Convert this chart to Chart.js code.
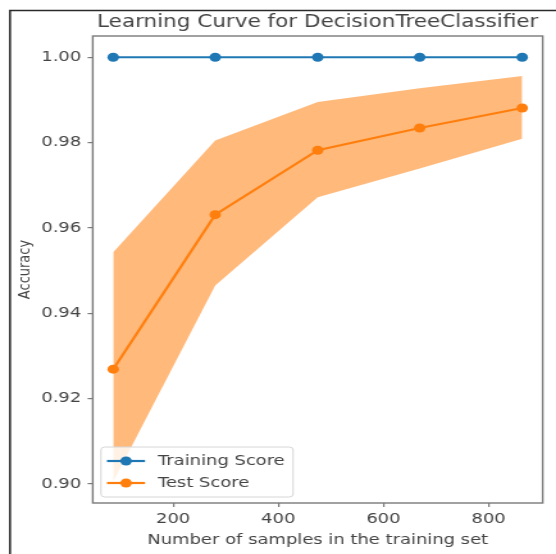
<!DOCTYPE html>
<html>
<head>
<meta charset="utf-8">
<script src="https://cdn.jsdelivr.net/npm/chart.js@4.4.1/dist/chart.umd.min.js"></script>
<style>
  html, body { margin: 0; padding: 0; background: #ffffff; }
  #c { display: block; }
</style>
</head>
<body>
<!-- The figure is laid out on a narrower canvas and widened by CSS, like the exported PNG -->
<canvas id="c" width="434" height="554" style="width:556px;height:554px;"></canvas>
<script>
// Learning curve values
const sampleSizes = [86, 280, 475, 669, 864];
const trainScores = [1.0, 1.0, 1.0, 1.0, 1.0];
const testScores  = [0.9269, 0.9631, 0.9782, 0.9834, 0.9881];
const testUpper   = [0.9543, 0.9805, 0.9895, 0.9927, 0.9956];
const testLower   = [0.9005, 0.9465, 0.9672, 0.9739, 0.9809];

// Tick labels and texts
const xTicks = [200, 400, 600, 800];
const yTicks = [0.90, 0.92, 0.94, 0.96, 0.98, 1.00];
const seriesNames = ['Training Score', 'Test Score'];
const titleText = 'Learning Curve for DecisionTreeClassifier';
const xLabel = 'Number of samples in the training set';
const yLabel = 'Accuracy';

const BLUE = '#1f77b4';
const ORANGE = '#ff7f0e';
const TEXT = '#444444';
const FONT = 'DejaVu Sans';
const LABEL_SIZE = 14;

// 5% margins around the data, like matplotlib's autoscale
function padded(lo, hi) {
  const m = (hi - lo) * 0.05;
  return [lo - m, hi + m];
}
const [xMin, xMax] = padded(Math.min(...sampleSizes), Math.max(...sampleSizes));
const [yMin, yMax] = padded(
  Math.min(...testLower, ...trainScores),
  Math.max(...testUpper, ...trainScores)
);

const pts = (ys) => sampleSizes.map((x, i) => ({ x: x, y: ys[i] }));

// Title, axes frame, outer border and in-plot legend
const decorations = {
  id: 'decorations',
  afterDatasetsDraw(chart) {
    const { ctx, chartArea: a } = chart;
    ctx.save();
    ctx.strokeStyle = '#7a7a7a';
    ctx.lineWidth = 1.4;
    ctx.strokeRect(a.left, a.top, a.right - a.left, a.bottom - a.top);
    ctx.restore();
  },
  afterDraw(chart) {
    const { ctx, chartArea: a } = chart;
    ctx.save();

    // title
    ctx.fillStyle = TEXT;
    ctx.font = `16.8px "${FONT}"`;
    ctx.textAlign = 'center';
    ctx.textBaseline = 'middle';
    ctx.fillText(titleText, (a.left + a.right) / 2, 22.5);

    // outer border of the image
    ctx.strokeStyle = '#2a2a2a';
    ctx.lineWidth = 1.6;
    ctx.beginPath();
    ctx.moveTo(7.8, chart.height);
    ctx.lineTo(7.8, 10.5);
    ctx.lineTo(chart.width, 10.5);
    ctx.stroke();

    // legend box (lower left)
    const bx = a.left + 6.4, bw = 150, bh = 50;
    const by = a.bottom - 6 - bh;
    const r = 3;
    ctx.beginPath();
    ctx.moveTo(bx + r, by);
    ctx.lineTo(bx + bw - r, by);
    ctx.arcTo(bx + bw, by, bx + bw, by + r, r);
    ctx.lineTo(bx + bw, by + bh - r);
    ctx.arcTo(bx + bw, by + bh, bx + bw - r, by + bh, r);
    ctx.lineTo(bx + r, by + bh);
    ctx.arcTo(bx, by + bh, bx, by + bh - r, r);
    ctx.lineTo(bx, by + r);
    ctx.arcTo(bx, by, bx + r, by, r);
    ctx.closePath();
    ctx.fillStyle = 'rgba(255,255,255,0.8)';
    ctx.fill();
    ctx.strokeStyle = '#d6d6d6';
    ctx.lineWidth = 1;
    ctx.stroke();

    const rows = [chart.data.datasets[0], chart.data.datasets[1]];
    rows.forEach((ds, i) => {
      const cy = by + 14 + i * 22;
      ctx.strokeStyle = ds.borderColor;
      ctx.lineWidth = ds.borderWidth;
      ctx.beginPath();
      ctx.moveTo(bx + 4.7, cy);
      ctx.lineTo(bx + 34.4, cy);
      ctx.stroke();
      ctx.fillStyle = ds.pointBackgroundColor;
      ctx.beginPath();
      ctx.arc(bx + 19.6, cy, ds.pointRadius, 0, Math.PI * 2);
      ctx.fill();
      ctx.fillStyle = TEXT;
      ctx.font = `${LABEL_SIZE}px "${FONT}"`;
      ctx.textAlign = 'left';
      ctx.textBaseline = 'middle';
      ctx.fillText(ds.label, bx + 44.5, cy + 0.5);
    });
    ctx.restore();
  }
};

new Chart(document.getElementById('c'), {
  type: 'line',
  data: {
    datasets: [
      {
        label: seriesNames[0],
        data: pts(trainScores),
        borderColor: BLUE,
        backgroundColor: BLUE,
        pointBackgroundColor: BLUE,
        borderWidth: 2.2,
        pointRadius: 4.5,
        pointBorderWidth: 0,
        tension: 0,
        fill: false
      },
      {
        label: seriesNames[1],
        data: pts(testScores),
        borderColor: ORANGE,
        backgroundColor: ORANGE,
        pointBackgroundColor: ORANGE,
        borderWidth: 2.2,
        pointRadius: 4.5,
        pointBorderWidth: 0,
        tension: 0,
        fill: false
      },
      {
        label: 'test upper',
        data: pts(testUpper),
        borderWidth: 0,
        borderColor: 'rgba(0,0,0,0)',
        pointRadius: 0,
        fill: false
      },
      {
        label: 'test lower',
        data: pts(testLower),
        borderWidth: 0,
        borderColor: 'rgba(0,0,0,0)',
        backgroundColor: 'rgba(255,127,14,0.55)',
        pointRadius: 0,
        fill: '-1'
      }
    ]
  },
  options: {
    responsive: false,
    devicePixelRatio: 1,
    animation: false,
    layout: { padding: { top: 36, right: 10.4, bottom: 0, left: 0 } },
    plugins: {
      legend: { display: false },
      title: { display: false },
      tooltip: { enabled: false }
    },
    scales: {
      x: {
        type: 'linear',
        min: xMin,
        max: xMax,
        afterBuildTicks: (s) => { s.ticks = xTicks.map(v => ({ value: v })); },
        afterFit: (s) => { s.height = 51; },
        ticks: {
          color: TEXT,
          font: { family: FONT, size: LABEL_SIZE },
          padding: 4,
          maxRotation: 0,
          autoSkip: false,
          callback: (v) => String(v)
        },
        grid: { drawOnChartArea: false, drawTicks: true, tickLength: 4, color: '#7a7a7a', lineWidth: 1.2 },
        border: { display: false },
        title: {
          display: true,
          text: xLabel,
          color: TEXT,
          font: { family: FONT, size: LABEL_SIZE },
          padding: { top: 0, bottom: 5 }
        }
      },
      y: {
        type: 'linear',
        min: yMin,
        max: yMax,
        afterBuildTicks: (s) => { s.ticks = yTicks.map(v => ({ value: v })); },
        afterFit: (s) => { s.width = 72.4; },
        ticks: {
          color: TEXT,
          font: { family: FONT, size: LABEL_SIZE },
          padding: 5,
          autoSkip: false,
          callback: (v) => Number(v).toFixed(2)
        },
        grid: { drawOnChartArea: false, drawTicks: true, tickLength: 4, color: '#7a7a7a', lineWidth: 1.2 },
        border: { display: false },
        title: {
          display: true,
          text: yLabel,
          color: TEXT,
          font: { family: FONT, size: 13 },
          padding: { top: 11.7, bottom: 0 }
        }
      }
    }
  },
  plugins: [decorations]
});
</script>
</body>
</html>
